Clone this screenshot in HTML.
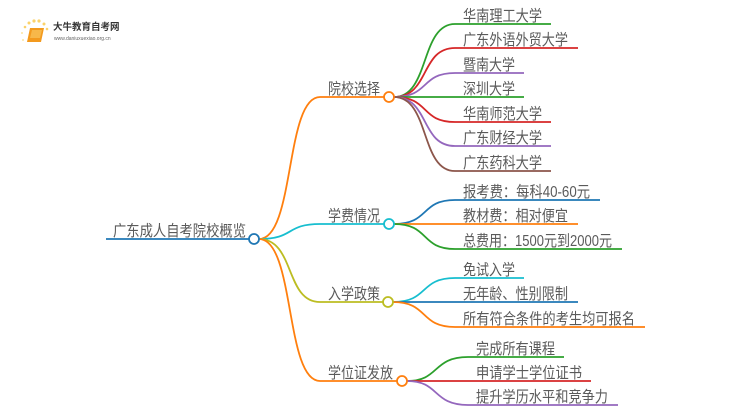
<!DOCTYPE html>
<html><head><meta charset="utf-8"><style>
html,body{margin:0;padding:0;background:#fff;}
svg{display:block}
text{font-family:"Liberation Sans","Noto Sans CJK SC",sans-serif;fill:#5a5a5a;}
</style></head><body>
<svg width="750" height="410" viewBox="0 0 750 410" xmlns="http://www.w3.org/2000/svg">
<g>
<circle cx="25" cy="27" r="1.3" fill="#fbd26a"/><circle cx="29" cy="23" r="1.5" fill="#fbd26a"/><circle cx="34" cy="21" r="1.6" fill="#fbd26a"/><circle cx="39" cy="21" r="1.6" fill="#fbd26a"/><circle cx="44" cy="24" r="1.5" fill="#fbd26a"/><circle cx="47" cy="29" r="1.3" fill="#fbd26a"/><circle cx="22" cy="33" r="1" fill="#fde3a0"/><circle cx="23" cy="40" r="1" fill="#fde3a0"/>
<path d="M30 28 L44 28 L41 42 L27 42 Z" fill="#f39a1e"/>
<path d="M32 30 L42 30 L40 38 L30 38 Z" fill="#f7b84a"/>
<text x="53" y="30" font-size="9.5" style="fill:#333" font-weight="bold">大牛教育自考网</text>
<text x="54" y="40" font-size="5" style="fill:#666">www.daniuxuexiao.org.cn</text>
</g>
<g fill="none" stroke-width="1.8">
<path d="M106 239 L249 239" stroke="#1f77b4"/>
<path d="M259 239 C295 239 285 97 320 97 L384 97" stroke="#ff7f0e"/>
<path d="M259 239 C295 239 285 224 320 224 L384 224" stroke="#17becf"/>
<path d="M259 239 C295 239 285 302 320 302 L383 302" stroke="#bcbd22"/>
<path d="M259 239 C295 239 285 381 320 381 L397 381" stroke="#ff7f0e"/>
<path d="M394 97 C430 97 420 24 455 24 L551 24" stroke="#2ca02c"/>
<path d="M394 97 C430 97 420 48 455 48 L578 48" stroke="#d62728"/>
<path d="M394 97 C430 97 420 73 455 73 L524 73" stroke="#9467bd"/>
<path d="M394 97 L524 97" stroke="#2ca02c"/>
<path d="M394 97 C430 97 420 122 455 122 L551 122" stroke="#d62728"/>
<path d="M394 97 C430 97 420 146 455 146 L551 146" stroke="#9467bd"/>
<path d="M394 97 C430 97 420 171 455 171 L551 171" stroke="#8c564b"/>
<path d="M394 224 C430 224 420 200 455 200 L600 200" stroke="#1f77b4"/>
<path d="M394 224 L578 224" stroke="#ff7f0e"/>
<path d="M394 224 C430 224 420 249 455 249 L622 249" stroke="#2ca02c"/>
<path d="M393 302 C429 302 419 278 455 278 L524 278" stroke="#17becf"/>
<path d="M393 302 L578 302" stroke="#1f77b4"/>
<path d="M393 302 C429 302 419 327 455 327 L645 327" stroke="#ff7f0e"/>
<path d="M407 381 C440 381 432 357 468 357 L564 357" stroke="#2ca02c"/>
<path d="M407 381 L591 381" stroke="#d62728"/>
<path d="M407 381 C440 381 432 405 468 405 L618 405" stroke="#9467bd"/>
</g>
<g fill="#fff" stroke-width="1.8">
<circle cx="254" cy="239" r="5" stroke="#1f77b4"/>
<circle cx="389" cy="97" r="5" stroke="#ff7f0e"/>
<circle cx="389" cy="224" r="5" stroke="#17becf"/>
<circle cx="388" cy="302" r="5" stroke="#bcbd22"/>
<circle cx="402" cy="381" r="5" stroke="#ff7f0e"/>
</g>
<g font-size="15.5">
<text x="113" y="236" textLength="133" lengthAdjust="spacingAndGlyphs">广东成人自考院校概览</text>
<text x="328" y="94" textLength="52" lengthAdjust="spacingAndGlyphs">院校选择</text>
<text x="328" y="221" textLength="52" lengthAdjust="spacingAndGlyphs">学费情况</text>
<text x="328" y="299" textLength="52" lengthAdjust="spacingAndGlyphs">入学政策</text>
<text x="328" y="378" textLength="65" lengthAdjust="spacingAndGlyphs">学位证发放</text>
<text x="463" y="21" textLength="79" lengthAdjust="spacingAndGlyphs">华南理工大学</text>
<text x="463" y="45" textLength="105" lengthAdjust="spacingAndGlyphs">广东外语外贸大学</text>
<text x="463" y="70" textLength="52" lengthAdjust="spacingAndGlyphs">暨南大学</text>
<text x="463" y="94" textLength="52" lengthAdjust="spacingAndGlyphs">深圳大学</text>
<text x="463" y="119" textLength="79" lengthAdjust="spacingAndGlyphs">华南师范大学</text>
<text x="463" y="143" textLength="79" lengthAdjust="spacingAndGlyphs">广东财经大学</text>
<text x="463" y="168" textLength="79" lengthAdjust="spacingAndGlyphs">广东药科大学</text>
<text x="463" y="197" textLength="127" lengthAdjust="spacingAndGlyphs">报考费：每科40-60元</text>
<text x="463" y="221" textLength="105" lengthAdjust="spacingAndGlyphs">教材费：相对便宜</text>
<text x="463" y="246" textLength="149" lengthAdjust="spacingAndGlyphs">总费用：1500元到2000元</text>
<text x="463" y="275" textLength="52" lengthAdjust="spacingAndGlyphs">免试入学</text>
<text x="463" y="299" textLength="105" lengthAdjust="spacingAndGlyphs">无年龄、性别限制</text>
<text x="463" y="324" textLength="172" lengthAdjust="spacingAndGlyphs">所有符合条件的考生均可报名</text>
<text x="476" y="354" textLength="79" lengthAdjust="spacingAndGlyphs">完成所有课程</text>
<text x="476" y="378" textLength="106" lengthAdjust="spacingAndGlyphs">申请学士学位证书</text>
<text x="476" y="402" textLength="132" lengthAdjust="spacingAndGlyphs">提升学历水平和竞争力</text>
</g>
</svg>
</body></html>
